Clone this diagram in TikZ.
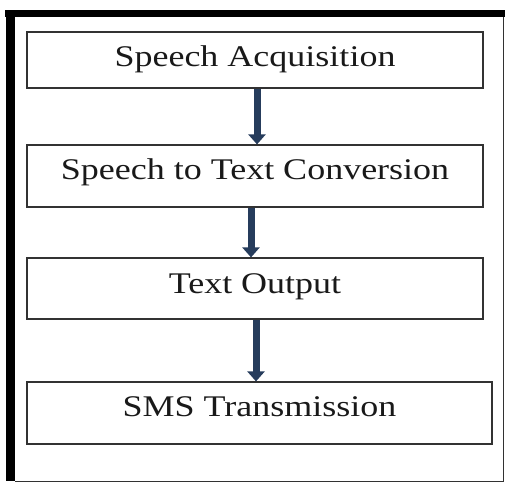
\documentclass[tikz,border=0pt]{standalone}
\usepackage{fontspec}
\setmainfont{Liberation Serif}[FakeStretch=1.2]
\usetikzlibrary{arrows.meta}
\definecolor{arrowblue}{RGB}{38,60,92}
\definecolor{boxline}{RGB}{50,50,50}
\tikzset{
  stagebox/.style={draw=boxline, line width=1.2pt, inner sep=0pt, align=center,
    font=\fontsize{30}{32}\selectfont, text=black!90},
  flowarrow/.style={draw=arrowblue, line width=7pt,
    -{Triangle[width=17pt,length=10pt]}, arrowblue}
}
\begin{document}
\begin{tikzpicture}[x=1pt,y=-1pt]
\useasboundingbox (0,0) rectangle (505,484);
% outer frame
\fill[black] (5,10) rectangle (505,17);
\fill[black] (6,10) rectangle (15,481);
\draw[boxline, line width=1.2pt] (503.5,17) -- (503.5,481.5) -- (15,481.5);
% stages
\node[stagebox, minimum width=456pt, text height=35pt, text depth=21pt] (b1) at (255,60) {Speech Acquisition};
\node[stagebox, minimum width=456pt, text height=34pt, text depth=28pt] (b2) at (255,176) {Speech to Text Conversion};
\node[stagebox, minimum width=456pt, text height=35pt, text depth=26pt] (b3) at (255,288.5) {Text Output};
\node[stagebox, minimum width=465pt, text height=34pt, text depth=28pt] (b4) at (259.5,413) {SMS Transmission};
% arrows
\draw[flowarrow] ([xshift=2pt]b1.south) -- ([xshift=2pt]b2.north);
\draw[flowarrow] ([xshift=-4pt]b2.south) -- ([xshift=-4pt]b3.north);
\draw[flowarrow] ([xshift=1pt]b3.south) -- ([xshift=-3.5pt]b4.north);
\end{tikzpicture}
\end{document}
